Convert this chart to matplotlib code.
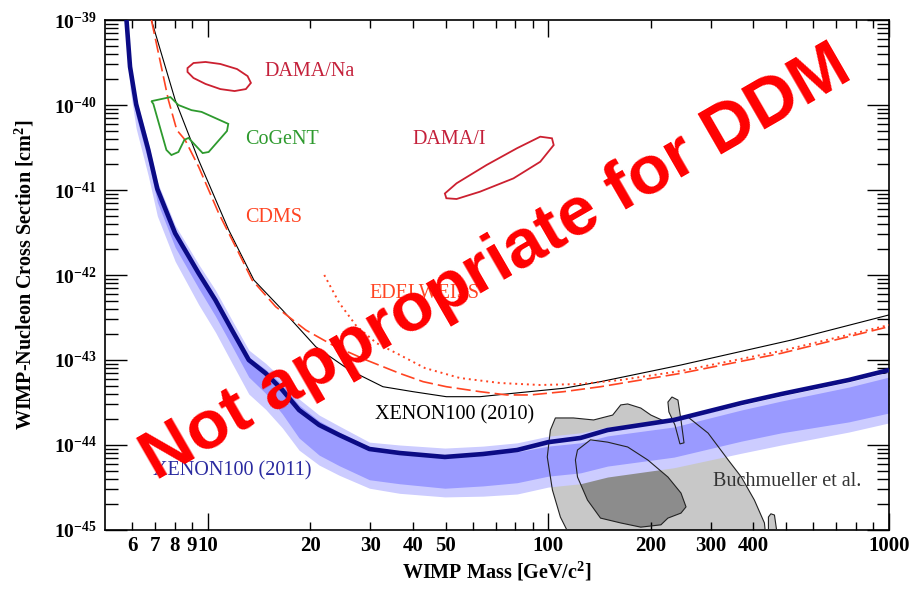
import matplotlib
matplotlib.use("Agg")
import matplotlib.pyplot as plt
from matplotlib.ticker import FixedLocator, FixedFormatter, LogLocator, NullFormatter

plt.rcParams["font.family"] = ["Liberation Serif", "DejaVu Serif"]
plt.rcParams["mathtext.fontset"] = "custom"
plt.rcParams["mathtext.rm"] = "Liberation Serif:bold"
plt.rcParams["mathtext.bf"] = "Liberation Serif:bold"
plt.rcParams["mathtext.it"] = "Liberation Serif:bold:italic"

# XENON100 (2011) limit and expected sensitivity bands
x11_mass = [5.78, 5.92, 6.17, 6.70, 7.12, 8.03, 9.41, 10.54, 11.79, 13.21, 14.8, 16.57,
            18.55, 21.25, 24.35, 29.85, 36.6, 49.7, 64.3, 81.0, 100, 124.3, 149.3,
            233.7, 368.6, 483, 762, 1000]
x11_limit = [1.0e-39, 2.82e-40, 1.02e-40, 2.96e-41, 1.03e-41, 3.1e-42, 1.05e-42, 5.08e-43,
             2.25e-43, 1.0e-43, 6.97e-44, 4.44e-44, 2.58e-44, 1.72e-44, 1.31e-44, 8.97e-45,
             8.05e-45, 7.23e-45, 7.83e-45, 8.73e-45, 1.08e-44, 1.21e-44, 1.5e-44,
             1.97e-44, 3.12e-44, 3.98e-44, 5.82e-44, 7.63e-44]
x11_2s_hi = [1.18e-39, 3.32e-40, 1.2e-40, 3.58e-41, 1.25e-41, 3.85e-42, 1.34e-42, 6.66e-43,
             2.95e-43, 1.31e-43, 9.14e-44, 5.98e-44, 3.48e-44, 2.25e-44, 1.67e-44, 1.08e-44,
             1.0e-44, 9.2e-45, 9.7e-45, 1.06e-44, 1.27e-44, 1.39e-44, 1.63e-44,
             1.97e-44, 2.95e-44, 3.77e-44, 5.5e-44, 7.2e-44]
x11_1s_hi = [1.06e-39, 2.98e-40, 1.08e-40, 3.13e-41, 1.12e-41, 3.36e-42, 1.14e-42, 5.51e-43,
             2.44e-43, 1.085e-43, 7.76e-44, 5.08e-44, 2.95e-44, 1.92e-44, 1.42e-44, 9.5e-45,
             8.5e-45, 7.6e-45, 7.8e-45, 8.3e-45, 9.7e-45, 1.06e-44, 1.28e-44,
             1.63e-44, 2.58e-44, 3.29e-44, 4.8e-44, 6.3e-44]
x11_1s_lo = [7.6e-40, 2.15e-40, 7.4e-41, 2.14e-41, 7.2e-42, 2.12e-42, 7.0e-43, 3.29e-43,
             1.46e-43, 6.3e-44, 4.06e-44, 2.32e-44, 1.21e-44, 7.6e-45, 5.7e-45, 3.9e-45,
             3.5e-45, 3.1e-45, 3.3e-45, 3.6e-45, 4.3e-45, 4.7e-45, 5.65e-45,
             7.2e-45, 1.11e-44, 1.39e-44, 1.87e-44, 2.38e-44]
x11_2s_lo = [5.5e-40, 1.55e-40, 5.3e-41, 1.46e-41, 4.95e-42, 1.45e-42, 4.5e-43, 2.13e-43,
             9.2e-44, 3.98e-44, 2.63e-44, 1.59e-44, 8.7e-45, 5.8e-45, 4.4e-45, 3.1e-45,
             2.7e-45, 2.45e-45, 2.5e-45, 2.65e-45, 3.2e-45, 3.5e-45, 4.2e-45,
             5.4e-45, 8.0e-45, 1.0e-44, 1.42e-44, 1.82e-44]

# XENON100 (2010)
x10_mass = [6.84, 8.03, 9.41, 11.53, 13.67, 16.57, 20.78, 26.06, 32.7, 40.06, 50.2, 63.0,
            79.0, 111, 142.3, 245, 518, 1000]
x10_limit = [1e-39, 1.15e-40, 2.25e-41, 3.39e-42, 8.73e-43, 3.88e-43, 1.43e-43, 7.63e-44,
             4.85e-44, 4.24e-44, 3.7e-44, 3.7e-44, 4.06e-44, 4.65e-44, 5.56e-44, 8.73e-44,
             1.72e-43, 3.39e-43]

# CDMS
cdms_mass = [6.84, 7.67, 8.12, 8.59, 9.41, 10.77, 12.34, 13.51, 15.84, 19.42, 23.26, 29.2,
             36.6, 42.9, 50.2, 63.0, 75.5, 88.5, 111, 142.3, 245, 483, 1000]
cdms_limit = [1e-39, 1.15e-40, 5.08e-41, 3.88e-41, 1.88e-41, 5.37e-42, 1.82e-42, 8.73e-43,
              4.24e-43, 2.25e-43, 1.5e-43, 1.0e-43, 6.97e-44, 5.56e-44, 4.85e-44, 4.24e-44,
              3.88e-44, 3.88e-44, 4.24e-44, 4.85e-44, 6.97e-44, 1.2e-43, 2.47e-43]

# EDELWEISS
edw_mass = [22.0, 24.35, 27.34, 31.3, 36.6, 43.4, 55.0, 72.2, 94.7, 124.3, 163, 245, 483, 1000]
edw_limit = [1e-42, 4.69e-43, 2.51e-43, 1.58e-43, 1.15e-43, 8.05e-44, 6.14e-44, 5.36e-44,
             5.08e-44, 5.22e-44, 5.82e-44, 7.43e-44, 1.28e-43, 2.58e-43]

# DAMA/Na, DAMA/I and CoGeNT regions
dama_na_mass = [8.73, 9.09, 9.86, 10.9, 12.2, 13.1, 13.4, 12.95, 12.0, 10.9, 9.86, 9.09, 8.73]
dama_na_sigma = [2.72e-40, 3.12e-40, 3.21e-40, 3.04e-40, 2.65e-40, 2.19e-40, 1.82e-40,
                 1.54e-40, 1.46e-40, 1.54e-40, 1.77e-40, 2.08e-40, 2.45e-40]
dama_i_mass = [49.7, 53.8, 65.9, 80.9, 94.7, 102.5, 103.7, 94.7, 79.0, 63.0, 53.8, 50.2]
dama_i_sigma = [9.1e-42, 1.2e-41, 1.97e-41, 3.1e-41, 4.24e-41, 4.06e-41, 3.38e-41, 2.15e-41,
                1.37e-41, 9.55e-42, 7.84e-42, 8.0e-42]
cogent_mass = [6.84, 7.78, 8.21, 8.97, 9.6, 11.5, 11.4, 10.07, 9.67, 8.79, 8.55, 8.21,
               7.83, 7.57, 6.93]
cogent_sigma = [1.11e-40, 1.24e-40, 1.0e-40, 8.7e-41, 8.3e-41, 6.0e-41, 4.95e-41, 2.8e-41,
                2.72e-41, 4.1e-41, 3.9e-41, 2.8e-41, 2.58e-41, 2.96e-41, 1.03e-40]

# Buchmueller et al. CMSSM regions
buch_out_mass = [118.5, 108.5, 102.8, 99.3, 101.4, 104.9, 118.5, 135.8, 154.5, 163.1, 171.0,
                 186.8, 200, 221.4, 238.5, 257, 294.4, 337.3, 368.5, 402.5, 430.8, 436.7]
buch_out_sigma = [7e-46, 1.42e-45, 2.96e-45, 7.23e-45, 1.5e-44, 2.08e-44, 2.08e-44, 1.97e-44,
                  2.25e-44, 2.96e-44, 3.04e-44, 2.72e-44, 2.25e-44, 1.87e-44, 1.97e-44,
                  2.13e-44, 1.38e-44, 6.66e-45, 4.2e-45, 2.25e-45, 1.21e-45, 7e-46]
buch_bump_mass = [442.6, 442.6, 450, 461, 473.7]
buch_bump_sigma = [7e-46, 1.42e-45, 1.55e-45, 1.5e-45, 7e-46]
buch_finger_mass = [224.4, 230.6, 240.1, 245.1, 250.2, 243.4, 235.3, 225.9]
buch_finger_sigma = [3.2e-44, 3.67e-44, 3.38e-44, 1.97e-44, 1.06e-44, 1.03e-44, 1.72e-44,
                     2.45e-44]
buch_in_mass = [121.8, 133, 149.3, 171, 195.9, 224.4, 245.1, 253.6, 245.1, 224.4, 214,
                186.8, 163.1, 142.3, 130.3, 121.8, 120.1]
buch_in_sigma = [8.73e-45, 1.15e-44, 1.08e-44, 9.47e-45, 6.66e-45, 4.2e-45, 2.72e-45,
                 1.87e-45, 1.58e-45, 1.38e-45, 1.15e-45, 1.08e-45, 1.21e-45, 1.38e-45,
                 2.25e-45, 4.2e-45, 6.66e-45]

x_minor = [6, 7, 8, 9, 20, 30, 40, 50, 60, 70, 80, 90, 200, 300, 400, 500, 600, 700, 800, 900]
x_minor_labels = ["6", "7", "8", "9", "20", "30", "40", "50", "", "", "", "",
                  "200", "300", "400", "", "", "", "", ""]
x_major = [10, 100, 1000]
x_major_labels = ["10", "100", "1000"]
y_major = [1e-45, 1e-44, 1e-43, 1e-42, 1e-41, 1e-40, 1e-39]
y_major_labels = [r"$10^{-45}$", r"$10^{-44}$", r"$10^{-43}$", r"$10^{-42}$",
                  r"$10^{-41}$", r"$10^{-40}$", r"$10^{-39}$"]

fig = plt.figure(figsize=(9.23, 5.89), dpi=100)
ax = fig.add_axes([0.1138, 0.1002, 0.8494, 0.8658])
ax.set_xscale("log")
ax.set_yscale("log")
ax.set_xlim(5, 1000)
ax.set_ylim(1e-45, 1e-39)

light_gray = "#c8c8c8"
dark_gray = "#8c8c8c"
ax.fill(buch_out_mass, buch_out_sigma, color=light_gray, lw=0, zorder=1)
ax.fill(buch_bump_mass, buch_bump_sigma, color=light_gray, lw=0, zorder=1)
ax.fill(buch_finger_mass, buch_finger_sigma, color=light_gray, lw=0, zorder=1)
ax.fill(buch_in_mass, buch_in_sigma, color=dark_gray, lw=0, zorder=1.2)

ax.fill_between(x11_mass, x11_2s_lo, x11_2s_hi, color="#ccccff", lw=0, zorder=2)
ax.fill_between(x11_mass, x11_1s_lo, x11_1s_hi, color="#9a9aff", lw=0, zorder=2.1)

for m, s in [(buch_out_mass, buch_out_sigma), (buch_bump_mass, buch_bump_sigma),
             (buch_finger_mass, buch_finger_sigma), (buch_in_mass, buch_in_sigma)]:
    ax.fill(m, s, fill=False, edgecolor="#222222", lw=0.8, zorder=3)

ax.plot(x10_mass, x10_limit, color="black", lw=0.8, zorder=3)
ax.plot(cdms_mass, cdms_limit, color="#ff4422", lw=1.2, dashes=(8.5, 3.0), zorder=3)
ax.plot(edw_mass, edw_limit, color="#ff4422", lw=1.4, dashes=(1.0, 2.0), zorder=3)
ax.fill(dama_na_mass, dama_na_sigma, fill=False, edgecolor="#cc2030", lw=1.3, zorder=3)
ax.fill(dama_i_mass, dama_i_sigma, fill=False, edgecolor="#cc2030", lw=1.3, zorder=3)
ax.fill(cogent_mass, cogent_sigma, fill=False, edgecolor="#2e9a2e", lw=1.3, zorder=3)
ax.plot(x11_mass, x11_limit, color="#0b0b85", lw=3.3, zorder=4, solid_capstyle="butt")

lab = dict(fontsize=14.5, va="center", ha="left", zorder=5)
ax.text(14.7, 2.45e-40, "DAMA/Na", color="#c4203a", **lab)
ax.text(12.85, 3.88e-41, "CoGeNT", color="#2e9a2e", **lab)
ax.text(40.0, 3.88e-41, "DAMA/I", color="#c4203a", **lab)
ax.text(12.85, 4.8e-42, "CDMS", color="#ff4422", **lab)
ax.text(29.85, 6.1e-43, "EDELWEISS", color="#ff4422", **lab)
ax.text(31.1, 2.25e-44, "XENON100 (2010)", color="black", **lab)
ax.text(6.93, 4.94e-45, "XENON100 (2011)", color="#2a2aa0", **lab)
ax.text(305, 3.67e-45, "Buchmueller et al.", color="#333333", **lab)

ax.xaxis.set_major_locator(FixedLocator(x_major))
ax.xaxis.set_major_formatter(FixedFormatter(x_major_labels))
ax.xaxis.set_minor_locator(FixedLocator(x_minor))
ax.xaxis.set_minor_formatter(FixedFormatter(x_minor_labels))
ax.yaxis.set_major_locator(FixedLocator(y_major))
ax.yaxis.set_major_formatter(FixedFormatter(y_major_labels))
ax.yaxis.set_minor_locator(LogLocator(base=10, subs=range(2, 10), numticks=20))
ax.yaxis.set_minor_formatter(NullFormatter())

ax.tick_params(which="both", direction="in", top=True, right=True, width=1.0,
               colors="black")
ax.tick_params(axis="x", which="major", length=12, pad=4)
ax.tick_params(axis="x", which="minor", length=6, pad=4)
ax.tick_params(axis="y", which="major", length=16, pad=6)
ax.tick_params(axis="y", which="minor", length=9)
for t in ax.get_xticklabels(which="both"):
    t.set_fontsize(15)
    t.set_fontweight("bold")
for t in ax.get_yticklabels():
    t.set_fontsize(14)
for sp in ax.spines.values():
    sp.set_linewidth(1.2)

ax.set_xlabel(r"WIMP Mass [GeV/c$^2$]", fontsize=14.5, fontweight="bold")
ax.set_ylabel(r"WIMP-Nucleon Cross Section [cm$^2$]", fontsize=14.5, fontweight="bold")
ax.xaxis.set_label_coords(0.5, -0.06)
ax.yaxis.set_label_coords(-0.088, 0.5)

fig.text(496 / 923, 1 - 264 / 589, "Not appropriate for DDM", color="#ff0000",
         fontsize=50, fontweight="bold", family="Liberation Sans", rotation=30,
         ha="center", va="center", rotation_mode="anchor", zorder=10)

fig.savefig("out.png", dpi=100)
